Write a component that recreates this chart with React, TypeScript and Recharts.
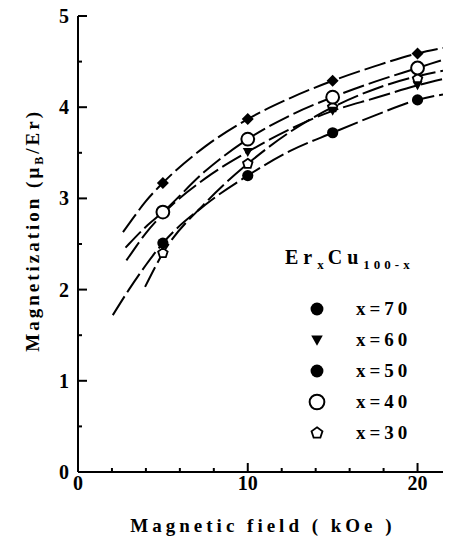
import React from 'react';
import { ComposedChart, Line, Scatter, XAxis, YAxis, Legend } from 'recharts';

// measured points (field in kOe, magnetization in muB/Er)
const field = [5, 10, 15, 20];
const m70 = [3.17, 3.87, 4.29, 4.59];
const m60 = [2.83, 3.51, 3.96, 4.24];
const m50 = [2.51, 3.25, 3.72, 4.08];
const m40 = [2.85, 3.65, 4.11, 4.43];
const m30 = [2.4, 3.38, 4.0, 4.31];

// dashed fit curves
const fit70X = [2.65, 3, 4, 5, 7.5, 10, 12.5, 15, 17.5, 20, 21.5];
const fit70Y = [2.63, 2.72, 2.97, 3.17, 3.57, 3.87, 4.1, 4.29, 4.45, 4.59, 4.65];
const fit40X = [2.8, 3, 4, 5, 7.5, 10, 12.5, 15, 17.5, 20, 21.5];
const fit40Y = [2.46, 2.5, 2.69, 2.85, 3.3, 3.65, 3.91, 4.11, 4.28, 4.43, 4.52];
const fit60X = [2.85, 3, 4, 5, 7.5, 10, 12.5, 15, 17.5, 20, 21.5];
const fit60Y = [2.32, 2.36, 2.62, 2.83, 3.22, 3.51, 3.76, 3.96, 4.1, 4.24, 4.31];
const fit30X = [3.95, 5, 7.5, 10, 12.5, 15, 17.5, 20, 21.5];
const fit30Y = [2.03, 2.4, 2.95, 3.38, 3.73, 4.0, 4.2, 4.34, 4.4];
const fit50X = [2.05, 3, 4, 5, 7.5, 10, 12.5, 15, 17.5, 20, 21.5];
const fit50Y = [1.72, 2.0, 2.27, 2.51, 2.93, 3.25, 3.52, 3.72, 3.91, 4.08, 4.14];

const xTicks = [0, 2, 4, 6, 8, 10, 12, 14, 16, 18, 20];
const yTicks = [0, 0.5, 1, 1.5, 2, 2.5, 3, 3.5, 4, 4.5, 5];
const legendLabels = ['x=70', 'x=60', 'x=50', 'x=40', 'x=30'];

const FONT = '"Liberation Serif", "DejaVu Serif", serif';

const zip = (xs: number[], ys: number[]) => xs.map((x, i) => ({ x, y: ys[i] }));

type Kind = 'diamond' | 'circle' | 'triangle' | 'open' | 'pentagon';

function Marker({ kind, cx, cy, big = false }: { kind: Kind; cx: number; cy: number; big?: boolean }) {
  const s = big ? 1.15 : 1;
  if (kind === 'diamond') {
    const r = 6 * s;
    return <polygon points={`${cx},${cy - r} ${cx + r},${cy} ${cx},${cy + r} ${cx - r},${cy}`} fill="#000" />;
  }
  if (kind === 'circle') return <circle cx={cx} cy={cy} r={5.6 * s} fill="#000" />;
  if (kind === 'triangle') {
    const w = 5 * s;
    return <polygon points={`${cx - w},${cy - 4 * s} ${cx + w},${cy - 4 * s} ${cx},${cy + 5 * s}`} fill="#000" />;
  }
  if (kind === 'open') return <circle cx={cx} cy={cy} r={6.4 * s} fill="#fff" stroke="#000" strokeWidth={2} />;
  const r = 5 * s;
  const pts = [0, 1, 2, 3, 4]
    .map((i) => {
      const a = -Math.PI / 2 + (i * 2 * Math.PI) / 5;
      return `${cx + r * Math.cos(a)},${cy + r * Math.sin(a)}`;
    })
    .join(' ');
  return <polygon points={pts} fill="#fff" stroke="#000" strokeWidth={1.8} />;
}

const shapeOf = (kind: Kind) => (p: any) => <Marker kind={kind} cx={p.cx} cy={p.cy} />;

// ticks point inward, majors longer and labelled
function makeTick(side: 'bottom' | 'left' | 'top' | 'right', majors: (v: number) => boolean) {
  return (p: any) => {
    const { x, y, payload } = p;
    const v = payload.value;
    const major = majors(v);
    const len = major ? 9 : 4;
    let line;
    if (side === 'bottom') line = <line x1={x} y1={y} x2={x} y2={y - len} stroke="#000" strokeWidth={2} />;
    else if (side === 'top') line = <line x1={x} y1={y} x2={x} y2={y + len} stroke="#000" strokeWidth={2} />;
    else if (side === 'left') line = <line x1={x} y1={y} x2={x + len} y2={y} stroke="#000" strokeWidth={2} />;
    else line = <line x1={x} y1={y} x2={x - len} y2={y} stroke="#000" strokeWidth={2} />;
    let label = null;
    if (major && side === 'bottom')
      label = (
        <text x={x} y={y + 18} textAnchor="middle" fontFamily={FONT} fontWeight="bold" fontSize={20} fill="#000">
          {v}
        </text>
      );
    if (major && side === 'left')
      label = (
        <text x={x - 9} y={y + 7} textAnchor="end" fontFamily={FONT} fontWeight="bold" fontSize={20} fill="#000">
          {v}
        </text>
      );
    return (
      <g>
        {line}
        {label}
      </g>
    );
  };
}

const kinds: Kind[] = ['circle', 'triangle', 'circle', 'open', 'pentagon'];

function LegendBox() {
  return (
    <div style={{ fontFamily: FONT, fontWeight: 'bold', color: '#000', width: 180 }}>
      <div style={{ fontSize: 20, letterSpacing: 5, height: 47, lineHeight: '22px', paddingLeft: 15, whiteSpace: 'nowrap' }}>
        Er<sub style={{ fontSize: 13, letterSpacing: 4 }}>x</sub>Cu<sub style={{ fontSize: 13, letterSpacing: 4 }}>100-x</sub>
      </div>
      {legendLabels.map((t, i) => (
        <div key={t} style={{ display: 'flex', alignItems: 'center', height: 31 }}>
          <svg width={20} height={20} style={{ marginLeft: 37 }}>
            <Marker kind={kinds[i]} cx={10} cy={10} big />
          </svg>
          <span style={{ marginLeft: 29, fontSize: 19, letterSpacing: 4 }}>{t}</span>
        </div>
      ))}
    </div>
  );
}

export default function App() {
  return (
    <div style={{ position: 'absolute', left: 0, top: 0, width: 452, height: 544, background: '#fff' }}>
      <ComposedChart width={452} height={544} margin={{ top: 16, right: 9, bottom: 0, left: 0 }}>
        <XAxis
          type="number"
          dataKey="x"
          domain={[0, 21.5]}
          ticks={xTicks}
          interval={0}
          height={72}
          tickSize={0}
          tickMargin={0}
          tickLine={false}
          tick={makeTick('bottom', (v) => v % 10 === 0)}
          axisLine={{ stroke: '#000', strokeWidth: 2 }}
          allowDataOverflow
        />
        <XAxis
          xAxisId="top"
          orientation="top"
          type="number"
          dataKey="x"
          domain={[0, 21.5]}
          ticks={xTicks}
          interval={0}
          height={0}
          tickSize={0}
          tickMargin={0}
          tickLine={false}
          tick={makeTick('top', (v) => v % 10 === 0)}
          axisLine={{ stroke: '#000', strokeWidth: 2 }}
        />
        <YAxis
          type="number"
          domain={[0, 5]}
          ticks={yTicks}
          interval={0}
          width={78}
          tickSize={0}
          tickMargin={0}
          tickLine={false}
          tick={makeTick('left', (v) => Number.isInteger(v))}
          axisLine={{ stroke: '#000', strokeWidth: 2 }}
          allowDataOverflow
        />
        <YAxis
          yAxisId="right"
          orientation="right"
          type="number"
          domain={[0, 5]}
          ticks={yTicks}
          interval={0}
          width={0}
          tickSize={0}
          tickMargin={0}
          tickLine={false}
          tick={makeTick('right', (v) => Number.isInteger(v))}
          axisLine={{ stroke: '#000', strokeWidth: 2 }}
        />
        {[
          [fit70X, fit70Y],
          [fit40X, fit40Y],
          [fit60X, fit60Y],
          [fit30X, fit30Y],
          [fit50X, fit50Y],
        ].map(([xs, ys], i) => (
          <Line
            key={i}
            data={zip(xs, ys)}
            dataKey="y"
            type="monotone"
            stroke="#000"
            strokeWidth={2}
            strokeDasharray="22 5"
            dot={false}
            activeDot={false}
            isAnimationActive={false}
          />
        ))}
        <Scatter data={zip(field, m50)} dataKey="y" shape={shapeOf('circle')} isAnimationActive={false} />
        <Scatter data={zip(field, m30)} dataKey="y" shape={shapeOf('pentagon')} isAnimationActive={false} />
        <Scatter data={zip(field, m60)} dataKey="y" shape={shapeOf('triangle')} isAnimationActive={false} />
        <Scatter data={zip(field, m40)} dataKey="y" shape={shapeOf('open')} isAnimationActive={false} />
        <Scatter data={zip(field, m70)} dataKey="y" shape={shapeOf('diamond')} isAnimationActive={false} />
        <Legend
          layout="vertical"
          align="center"
          verticalAlign="middle"
          content={() => <LegendBox />}
          wrapperStyle={{ left: 270, top: 246, width: 180 }}
        />
      </ComposedChart>
      <div
        style={{
          position: 'absolute',
          left: 37,
          top: 514,
          width: 452,
          textAlign: 'center',
          fontFamily: FONT,
          fontWeight: 'bold',
          fontSize: 19,
          letterSpacing: 4,
          lineHeight: '24px',
        }}
      >
        Magnetic field ( kOe )
      </div>
      <div
        style={{
          position: 'absolute',
          left: 36 - 160,
          top: 227 - 12,
          width: 320,
          textAlign: 'center',
          fontFamily: FONT,
          fontWeight: 'bold',
          fontSize: 19,
          letterSpacing: 3,
          lineHeight: '24px',
          transform: 'rotate(-90deg)',
          whiteSpace: 'nowrap',
        }}
      >
        Magnetization (μ<sub style={{ fontSize: 12 }}>B</sub>/Er)
      </div>
    </div>
  );
}
